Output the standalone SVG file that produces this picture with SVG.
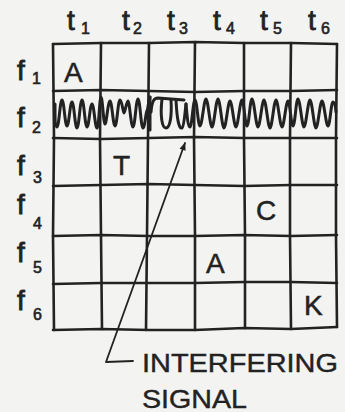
<svg xmlns="http://www.w3.org/2000/svg" width="345" height="412" viewBox="0 0 345 412">
<defs>
<style>
.ln{fill:none;stroke:#222;stroke-width:2.6;stroke-linecap:round;stroke-linejoin:round}
.sig{fill:none;stroke:#222;stroke-width:3;stroke-linecap:round;stroke-linejoin:round}
.thin{fill:none;stroke:#222;stroke-width:1.8;stroke-linecap:round;stroke-linejoin:round}
.lb{font-family:"Liberation Sans",Arial,sans-serif;font-size:28px;fill:#222;stroke:#222;stroke-width:0.8}
.sb{font-family:"Liberation Sans",Arial,sans-serif;font-size:16px;fill:#222;stroke:#222;stroke-width:0.6}
.cell{font-family:"Liberation Sans",Arial,sans-serif;font-size:28px;fill:#222;stroke:#222;stroke-width:0.5}
.note{font-family:"Liberation Sans",Arial,sans-serif;font-size:25px;fill:#222;stroke:#222;stroke-width:0.4}
</style>
<marker id="ah" viewBox="0 0 10 10" refX="9" refY="5" markerWidth="10" markerHeight="8" markerUnits="userSpaceOnUse" orient="auto">
<path d="M0,1 L10,5 L0,9 Z" fill="#222"/>
</marker>
</defs>
<rect width="345" height="412" fill="#f3f3f2"/>
<g id="grid">
<path class="ln" d="M53,44 L101,43 L149,43 L195,42 L244,43 L291,43 L337,44"/>
<path class="ln" d="M53,91 L101,90 L149,91 L195,92 L244,91 L291,91 L337,90"/>
<path class="ln" d="M53,138 L101,139 L149,138 L195,137 L244,138 L291,138 L337,138"/>
<path class="ln" d="M53,186 L101,185 L149,184 L195,185 L244,186 L291,185 L337,185"/>
<path class="ln" d="M53,236 L101,235 L149,236 L195,236 L244,235 L291,236 L337,235"/>
<path class="ln" d="M53,284 L101,283 L149,283 L195,283 L244,282 L291,282 L337,283"/>
<path class="ln" d="M53,330 L101,329 L149,330 L195,330 L244,328 L291,329 L337,327"/>
<path class="ln" d="M53,44 L54,138 L53,236 L54,330"/>
<path class="ln" d="M101,43 L100,138 L101,236 L102,329"/>
<path class="ln" d="M149,43 L148,138 L147,236 L146,330"/>
<path class="ln" d="M195,42 L194,138 L195,236 L195,330"/>
<path class="ln" d="M244,43 L244,138 L245,236 L245,328"/>
<path class="ln" d="M291,43 L290,138 L290,236 L291,329"/>
<path class="ln" d="M337,44 L336,138 L336,236 L337,327"/>
</g>
<g id="time-labels">
<text class="lb" x="67" y="30">t</text><text class="sb" x="81" y="34">1</text>
<text class="lb" x="122" y="30">t</text><text class="sb" x="133" y="34">2</text>
<text class="lb" x="167" y="30">t</text><text class="sb" x="179" y="34">3</text>
<text class="lb" x="213" y="30">t</text><text class="sb" x="226" y="34">4</text>
<text class="lb" x="260" y="30">t</text><text class="sb" x="273" y="34">5</text>
<text class="lb" x="308" y="30">t</text><text class="sb" x="321" y="34">6</text>
</g>
<g id="freq-labels">
<text class="lb" x="17" y="80">f</text><text class="sb" x="32" y="84">1</text>
<text class="lb" x="17" y="127">f</text><text class="sb" x="32" y="133">2</text>
<text class="lb" x="17" y="175">f</text><text class="sb" x="33" y="183">3</text>
<text class="lb" x="17" y="214">f</text><text class="sb" x="33" y="229">4</text>
<text class="lb" x="17" y="262">f</text><text class="sb" x="33" y="273">5</text>
<text class="lb" x="17" y="310">f</text><text class="sb" x="33" y="320">6</text>
</g>
<g id="cell-f1-t1"><text class="cell" x="64" y="82">A</text></g>
<g id="cell-f3-t2"><text class="cell" x="113" y="175">T</text></g>
<g id="cell-f4-t5"><text class="cell" x="256" y="220">C</text></g>
<g id="cell-f5-t4"><text class="cell" x="206" y="273">A</text></g>
<g id="cell-f6-t6"><text class="cell" x="304" y="315">K</text></g>
<g id="interfering-signal">
<path class="sig" d="M55,104 C55,118 55,127 57,127 S60,100 62,100 S65,126 67,126 S70,102 72,102 S75,128 77,128 S80,100 82,100 S85,127 87,127 S90,104 92,104 S95,128 97,128 S99.5,97 101,97 S103.5,124 105,124 S108,101 110,101 S113,126 115,126 S118,100 120,100 S123,113 124,113 S126.5,101 128,101 S131,127 133,127 S136,99 138,99 S141,128 143,128 S146,110 147,110 S149,97 150,97"/>
<path class="sig" d="M150,97 L150,130"/>
<path class="sig" d="M151,112 C152,101 154,98 158,98 L184,100"/>
<path class="sig" d="M162,99 C160,116 162,128 166,128 C170,128 172,116 171,100"/>
<path class="sig" d="M176,100 C177,120 179,129 182,128 C184,127 185,112 186,104"/>
<path class="sig" d="M186,104 C187,115 188,127 190,127 S193,100 195,100 S198,126 200,126 S204,99 206,99 S210,127 212,127 S216,99 218,99 S222,128 224,128 S228,101 230,101 S234,127 236,127 S240,100 242,100 S245,126 247,126 S250,99 252,99 S256,127 258,127 S262,100 264,100 S268,128 270,128 S274,100 276,100 S280,127 282,127 S286,101 288,101 S291,126 293,126 S296,99 298,99 S302,127 304,127 S308,100 310,100 S314,128 316,128 S320,101 322,101 S326,126 328,126 S331,102 333,102 S336,112 336,112"/>
</g>
<g id="connectors">
<path class="thin" d="M133,361 L106,362 L185,143" marker-end="url(#ah)"/>
</g>
<g id="annotation">
<text class="note" x="142" y="372" textLength="196" lengthAdjust="spacingAndGlyphs">INTERFERING</text>
<text class="note" x="142" y="408" textLength="105" lengthAdjust="spacingAndGlyphs">SIGNAL</text>
</g>
</svg>
